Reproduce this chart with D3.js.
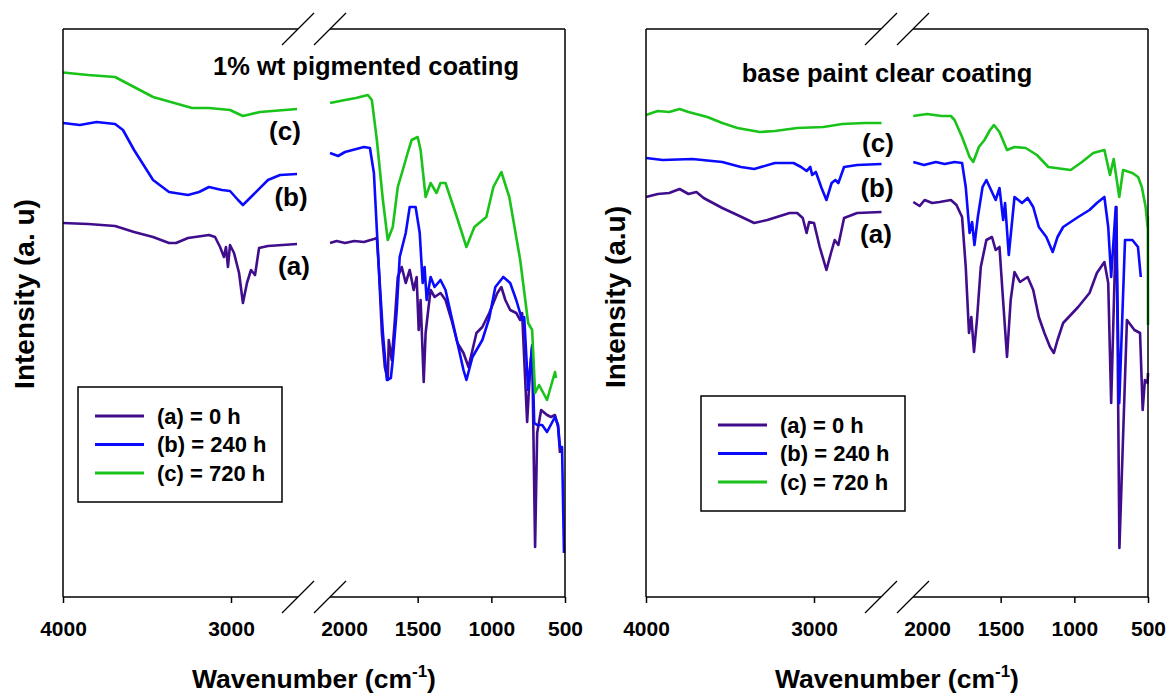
<!DOCTYPE html>
<html>
<head>
<meta charset="utf-8">
<script src="https://cdn.jsdelivr.net/npm/d3@7.9.0/dist/d3.min.js"></script>
<style>
  body { margin: 0; background: #fff; }
  svg { display: block; font-family: "Liberation Sans", Arial, sans-serif; font-weight: bold; }
</style>
</head>
<body>
<svg id="chart" width="1166" height="695"></svg>
<script>
// ---- data (wavenumber cm-1, intensity a.u.) ----
const seriesNames = ["(a) = 0 h", "(b) = 240 h", "(c) = 720 h"];
const curveTags = ["(a)", "(b)", "(c)"];
const colors = ["#400d8c", "#0a0aff", "#19c319"];

const tickHigh = [4000, 3000];
const tickLow = [2000, 1500, 1000, 500];

// 1% wt pigmented coating
const pigA = [[4000,74.8],[3850,74.6],[3690,74.2],[3577,73],[3464,72],[3369,70.8],[3327,70.8],[3256,71.8],[3131,72.4],[3095,72],[3065,70],[3042,68],[3030,70],[3018,66],[3006,70.4],[2982,68.8],[2952,64.8],[2929,58.8],[2905,62.8],[2881,65.4],[2857,64.4],[2833,69.8],[2780,70.2],[2607,70.6],
  [2095,70.8],[2050,71.2],[1993,70.8],[1930,71.2],[1865,71],[1797,71.6],[1777,71.8],[1764,66],[1743,52.8],[1723,46],[1703,43.4],[1696,51.4],[1676,47.4],[1655,55.4],[1635,64],[1608,66],[1581,62.8],[1554,65.4],[1527,61.4],[1507,64],[1493,53.4],[1480,59.4],[1459,43],[1446,52.8],[1426,58],[1412,61.4],[1385,60],[1345,60.8],[1311,59.4],[1270,55.4],[1230,50.8],[1189,48.8],[1155,46],[1101,52.8],[1061,54],[1014,56.8],[959,60.8],[932,62],[905,59.4],[872,57.4],[831,56.8],[804,55.4],[791,56.8],[757,35],[736,46],[723,50],[703,10],[689,32.8],[662,37.4],[622,36.4],[595,36],[568,36.4],[547,34],[534,28.8]];
const pigB = [[4000,94.8],[3900,94.4],[3800,95],[3690,94.6],[3643,93.4],[3577,89.4],[3464,83.4],[3369,81],[3256,80.4],[3190,81],[3131,82],[3054,81.4],[3006,81.2],[2958,79.4],[2929,78.4],[2869,80.4],[2780,83.4],[2708,84.4],[2607,84.6],
  [2095,88.8],[2040,88.2],[1993,89],[1865,90],[1824,89.8],[1797,84.8],[1764,66],[1736,52.8],[1709,43.4],[1682,43.8],[1669,47.4],[1642,57.4],[1622,68],[1581,72.8],[1554,78],[1514,78],[1486,72.8],[1466,62.8],[1453,66],[1439,59.4],[1412,64],[1385,62],[1345,63.4],[1311,61.4],[1270,56],[1230,50.8],[1189,45.4],[1169,43.4],[1128,48],[1061,51.4],[1014,55.8],[973,62],[919,64],[872,62.8],[831,59.4],[791,55.4],[777,56],[750,41.4],[723,50.4],[709,34.8],[689,34.4],[655,34.4],[622,33],[568,36],[547,34.4],[534,30],[520,30],[507,8.8]];
const pigC = [[4000,104.9],[3850,104.4],[3690,104],[3464,100],[3232,97.8],[3131,97.8],[3006,97.4],[2929,96.2],[2827,97],[2607,97.6],
  [2095,98.8],[1993,99.4],[1919,99.8],[1838,100.4],[1811,99.4],[1777,91.4],[1736,79.4],[1703,71.4],[1669,74],[1635,82],[1595,86],[1568,88.8],[1541,91.4],[1500,92],[1480,89.4],[1446,80],[1412,82.8],[1372,80.8],[1345,82.8],[1311,82.8],[1243,76.8],[1169,70],[1115,74],[1034,76],[986,82],[932,85],[878,80],[804,67.4],[750,54.8],[723,53.4],[703,40.8],[676,42.4],[622,39.4],[568,45],[561,43.8]];

// base paint clear coating
const clrA = [[4000,80],[3930,80.6],[3862,80.8],[3800,81.6],[3747,80.6],[3700,81],[3657,79.8],[3546,77.8],[3456,76.4],[3356,74.8],[3278,75.4],[3145,76.8],[3100,76.8],[3067,75.8],[3044,72.8],[3029,75],[3000,74.8],[2966,70],[2926,65.4],[2899,68.8],[2877,71.4],[2855,70.4],[2821,75.8],[2743,76.8],[2598,77],
  [2093,79],[2050,78.2],[2016,79.4],[1965,78.8],[1914,79],[1838,79.4],[1800,78.4],[1762,76],[1737,66],[1715,52.8],[1699,56],[1681,49],[1661,55.4],[1635,66],[1597,71.4],[1559,72],[1534,69.4],[1508,70],[1487,60.8],[1457,48],[1432,59.4],[1406,65],[1369,63],[1317,64],[1279,61.4],[1241,56],[1203,52.8],[1165,50],[1139,48.8],[1114,51.4],[1076,54.8],[1025,56.4],[974,58],[897,60.8],[847,64.8],[796,67],[770,62.8],[750,38.8],[714,78],[694,9.8],[643,55.4],[592,53.4],[554,52.8],[536,37.4],[521,43.4],[503,42.8],[500,44.8]];
const clrB = [[4000,87.8],[3900,87.4],[3724,87.6],[3546,87],[3435,86],[3356,85.6],[3233,86.8],[3122,86.8],[3077,86],[3044,85.2],[3022,86],[3011,84.4],[2989,85],[2955,81.8],[2926,79.4],[2895,82.8],[2873,83.4],[2855,82.8],[2821,86],[2743,86.4],[2598,86.6],
  [2093,87],[2020,86.4],[1940,87],[1880,86.6],[1813,87],[1762,86.8],[1737,82],[1711,72.8],[1694,75],[1678,70.4],[1655,76],[1623,82],[1597,83.4],[1559,81],[1534,79.4],[1508,81.8],[1483,75.4],[1470,78.8],[1445,68.4],[1406,80],[1355,78.8],[1317,79.8],[1279,78],[1241,74],[1190,72],[1147,69],[1114,72],[1076,74],[1025,75],[974,76],[897,77.4],[847,78.8],[796,80],[770,74],[750,64],[719,78],[695,38.8],[656,71.4],[606,71.4],[568,70],[549,64]];
const clrC = [[4000,96.4],[3930,97.2],[3862,97],[3800,97.6],[3747,97],[3635,96],[3546,94.8],[3456,93.8],[3323,93],[3233,93.2],[3100,93.8],[2944,94],[2832,94.6],[2699,94.8],[2598,94.8],
  [2093,96.2],[2000,96.6],[1900,96.2],[1838,96.2],[1813,95.4],[1762,92],[1711,88],[1686,87],[1648,90],[1610,91.4],[1572,93.4],[1546,94.4],[1508,93],[1457,89.4],[1406,90],[1330,89.8],[1254,88.4],[1177,86],[1126,85.8],[1025,85.4],[948,87],[872,88.8],[796,89.4],[758,84.4],[733,87.6],[695,80],[669,85.4],[606,84.8],[567,84],[542,82],[516,78],[503,74],[501,76],[500,54.4]];

const panels = [
  { x0: 63, title: "1% wt pigmented coating", titleX: 366, titleY: 75, ylab: "Intensity (a. u)", ylabX: 34, ylabY: 294,
    series: [pigA, pigB, pigC],
    tags: [[294, 275], [291, 206], [285, 140]],
    legend: { x: 78, y: 387 } },
  { x0: 646, title: "base paint clear coating", titleX: 887, titleY: 82, ylab: "Intensity (a.u)", ylabX: 625, ylabY: 297,
    series: [clrA, clrB, clrC],
    tags: [[876, 243], [877, 197], [878, 152]],
    legend: { x: 701, y: 396 } }
];

const plotTop = 29, plotBottom = 597;
const svg = d3.select("#chart");
const y = d3.scaleLinear().domain([0, 113.6]).range([plotBottom, plotTop]);

panels.forEach(p => {
  const g = svg.append("g");
  // broken x axis: high segment 4000-2600, low segment 2100-500
  const xHigh = d3.scaleLinear().domain([4000, 3000]).range([p.x0, p.x0 + 168]);
  const xLow = d3.scaleLinear().domain([2000, 500]).range([p.x0 + 281, p.x0 + 502]);
  const b1 = p.x0 + 235, b2 = p.x0 + 267, xr = p.x0 + 502;

  // curves
  const line = sc => d3.line().x(d => sc(d[0])).y(d => y(d[1]));
  p.series.forEach((s, i) => {
    const hi = s.filter(d => d[0] >= 2500);
    const lo = s.filter(d => d[0] <= 2200);
    [[hi, xHigh], [lo, xLow]].forEach(([pts, sc]) => {
      g.append("path").datum(pts)
        .attr("d", line(sc))
        .attr("fill", "none")
        .attr("stroke", colors[i])
        .attr("stroke-width", 2.6)
        .attr("stroke-linejoin", "round");
    });
  });

  // frame with breaks
  const frame = g.append("g").attr("stroke", "#000").attr("stroke-width", 1.5).attr("fill", "none");
  [plotTop, plotBottom].forEach(yy => {
    frame.append("line").attr("x1", p.x0).attr("x2", b1).attr("y1", yy).attr("y2", yy);
    frame.append("line").attr("x1", b2).attr("x2", xr).attr("y1", yy).attr("y2", yy);
    [b1, b2].forEach(bx => {
      frame.append("line").attr("stroke-width", 1.2)
        .attr("x1", bx - 16).attr("y1", yy + 16).attr("x2", bx + 16).attr("y2", yy - 16);
    });
  });
  frame.append("line").attr("x1", p.x0).attr("x2", p.x0).attr("y1", plotTop).attr("y2", plotBottom);
  frame.append("line").attr("x1", xr).attr("x2", xr).attr("y1", plotTop).attr("y2", plotBottom);

  // axes
  const axHigh = g.append("g").attr("transform", `translate(0,${plotBottom})`)
    .call(d3.axisBottom(xHigh).tickValues(tickHigh).tickSize(6).tickPadding(18).tickFormat(d3.format("d")));
  const axLow = g.append("g").attr("transform", `translate(0,${plotBottom})`)
    .call(d3.axisBottom(xLow).tickValues(tickLow).tickSize(6).tickPadding(18).tickFormat(d3.format("d")));
  [axHigh, axLow].forEach(ax => {
    ax.select(".domain").remove();
    ax.selectAll("line").attr("stroke-width", 1.5);
    ax.selectAll("text").attr("font-size", 21).attr("font-weight", "bold")
      .attr("font-family", "Liberation Sans, Arial, sans-serif").attr("fill", "#000");
  });
  axLow.selectAll(".tick").filter(d => d === 2000).select("line").remove();

  // titles
  g.append("text").attr("x", p.titleX).attr("y", p.titleY).attr("text-anchor", "middle")
    .attr("font-size", 25.5).text(p.title);
  const xt = g.append("text").attr("x", p.x0 + 251).attr("y", 688).attr("text-anchor", "middle")
    .attr("font-size", 26.5);
  xt.append("tspan").text("Wavenumber (cm");
  xt.append("tspan").attr("dy", -11).attr("font-size", 17).text("-1");
  xt.append("tspan").attr("dy", 11).text(")");
  g.append("text").attr("transform", `translate(${p.ylabX},${p.ylabY}) rotate(-90)`)
    .attr("text-anchor", "middle").attr("font-size", 28).text(p.ylab);

  // curve tags
  p.tags.forEach((t, i) => {
    g.append("text").attr("x", t[0]).attr("y", t[1]).attr("text-anchor", "middle")
      .attr("font-size", 26).text(curveTags[i]);
  });

  // legend
  const lg = g.append("g").attr("transform", `translate(${p.legend.x},${p.legend.y})`);
  lg.append("rect").attr("width", 204).attr("height", 115)
    .attr("fill", "#fff").attr("stroke", "#000").attr("stroke-width", 1.5);
  seriesNames.forEach((n, i) => {
    const yy = 29 + i * 28.5;
    lg.append("line").attr("x1", 17).attr("x2", 66).attr("y1", yy).attr("y2", yy)
      .attr("stroke", colors[i]).attr("stroke-width", 3);
    lg.append("text").attr("x", 79).attr("y", yy + 7.5).attr("font-size", 22).text(n);
  });
});
</script>
</body>
</html>
